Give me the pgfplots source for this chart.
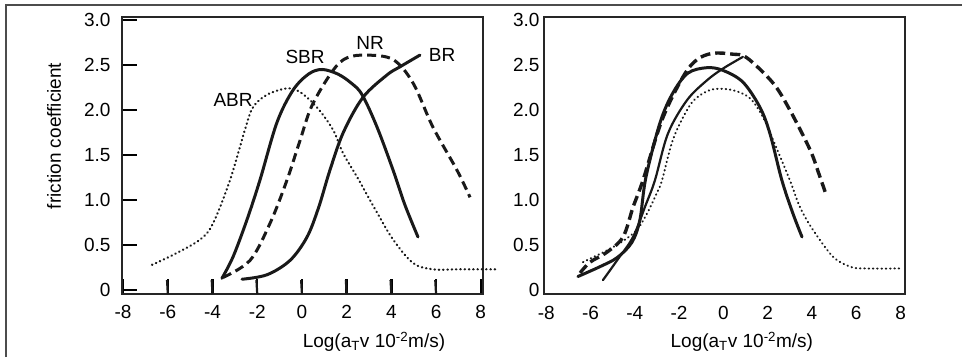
\documentclass[border=0pt]{standalone}
\usepackage{pgfplots}
\pgfplotsset{compat=1.18}
\usepackage{fontspec}
\setmainfont{Liberation Sans}

\pgfplotsset{
  panel/.style={
    scale only axis, width=361pt, height=277pt, anchor=south west,
    ymin=-0.044, ymax=3.033,
    ytick={0,0.5,1,1.5,2,2.5,3},
    yticklabels={0,0.5,1.0,1.5,2.0,2.5,3.0},
    xtick={-8,-6,-4,-2,0,2,4,6,8},
    xticklabels={-8,-6,-4,-2,0,2,4,6,8},
    clip=false,
    xtick pos=lower, ytick pos=left,
    tick align=inside,
    ticklabel style={font=\fontsize{19}{22}\selectfont},
    label style={font=\fontsize{19}{22}\selectfont},
    every axis plot/.append style={black!90, line cap=round, line join=round, smooth, tension=0.55},
  },
  sbr/.style={line width=3pt},
  br/.style={line width=3pt},
  nr/.style={line width=3pt, dash pattern=on 9pt off 5pt, line cap=butt},
  abr/.style={line width=2.2pt, dash pattern=on 0.5pt off 3.8pt},
}

\begin{document}
\fontsize{19}{22}\selectfont
\begin{tikzpicture}
\path[use as bounding box] (0pt,0pt) rectangle (962pt,357pt);
\draw[line width=1.3pt, black!70] (6pt,0pt) -- (6pt,352pt) -- (962pt,352pt);
\node[rotate=90, font=\fontsize{19}{22}\selectfont] at (54pt,221pt) {friction coefficient};

% ---------------- left panel ----------------
\begin{axis}[panel, at={(122pt,63pt)},
  xmin=-8.05, xmax=8.1,
  axis line style={line width=2.4pt, black!85},
  major tick length=15pt,
  major tick style={line width=2.4pt, black},
  yticklabel style={xshift=-5pt},
  xticklabel style={yshift=-5pt},
  xlabel={Log(a\textsubscript{T}v 10\textsuperscript{-2}m/s)},
  xlabel style={at={(axis description cs:0.698,-0.173)}, anchor=center},
]
% SBR
\addplot[sbr] coordinates {(-3.58,0.13) (-3.08,0.37) (-2.46,0.78) (-1.88,1.22) (-1.12,1.86) (-0.4,2.22) (0.3,2.40) (0.9,2.45) (1.6,2.40) (2.2,2.30) (2.69,2.17) (3.36,1.81) (4.08,1.33) (4.6,0.95) (5.19,0.59)};
% NR
\addplot[nr] coordinates {(-3.53,0.14) (-2.32,0.33) (-1.43,0.74) (-0.7,1.2) (-0.1,1.65) (0.45,2.05) (1.39,2.44) (2.02,2.58) (2.91,2.61) (4.08,2.56) (4.97,2.30) (5.86,1.81) (6.94,1.33) (7.52,1.03)};
% BR
\addplot[br] coordinates {(-2.68,0.12) (-1.56,0.17) (-0.53,0.33) (0.23,0.59) (0.75,0.92) (1.25,1.33) (1.85,1.75) (2.73,2.14) (3.81,2.39) (4.39,2.48) (5.28,2.61)};
% ABR
\addplot[abr] coordinates {(-6.71,0.28) (-5.77,0.39) (-4.56,0.56) (-3.98,0.74) (-3.22,1.22) (-2.55,1.78) (-2.19,2.03) (-1.56,2.17) (-0.67,2.24) (-0.09,2.20) (0.67,2.03) (1.39,1.78) (1.84,1.52) (2.48,1.25) (3.36,0.86) (4.08,0.56) (4.97,0.30) (5.86,0.23) (7.0,0.23) (8.73,0.23)};
% x tick marks standing on the axis
\pgfplotsinvokeforeach{-6,-4,-2,0,2,4,6}{\draw[line width=2.2pt, black!90] (axis cs:#1,-0.044) -- ++(-0.8pt,14pt);}
\node[font=\fontsize{19}{22}\selectfont] at (axis cs:0.14,2.59) {SBR};
\node[font=\fontsize{19}{22}\selectfont] at (axis cs:3.05,2.74) {NR};
\node[font=\fontsize{19}{22}\selectfont] at (axis cs:6.27,2.61) {BR};
\node[font=\fontsize{19}{22}\selectfont] at (axis cs:-3.08,2.11) {ABR};
\end{axis}

% ---------------- right panel ----------------
\begin{axis}[panel, at={(544pt,63pt)},
  xmin=-8.1, xmax=8.2,
  axis line style={line width=2pt, black!85},
  major tick length=0pt,
  yticklabel style={xshift=2pt},
  xticklabel style={yshift=-6pt},
  xlabel={Log(a\textsubscript{T}v 10\textsuperscript{-2}m/s)},
  xlabel style={at={(axis description cs:0.548,-0.173)}, anchor=center},
]
% NR
\addplot[nr, line width=3.4pt, dash pattern=on 10pt off 5pt] coordinates {(-6.47,0.19) (-6.02,0.31) (-5.26,0.42) (-4.53,0.59) (-4.08,0.92) (-3.63,1.22) (-2.77,1.89) (-1.82,2.37) (-1.19,2.56) (-0.47,2.63) (0.43,2.62) (1.06,2.58) (2.24,2.30) (3.0,2.0) (3.91,1.56) (4.3,1.3) (4.65,1.05)};
% SBR
\addplot[sbr] coordinates {(-6.57,0.15) (-5.57,0.26) (-4.8,0.36) (-4.13,0.53) (-3.77,0.78) (-3.5,1.25) (-2.86,1.86) (-2.28,2.19) (-1.6,2.41) (-0.74,2.47) (-0.02,2.44) (0.88,2.31) (1.65,2.03) (2.1,1.74) (2.64,1.22) (3.14,0.85) (3.55,0.59)};
% BR
\addplot[br, line width=2.2pt] coordinates {(-5.44,0.11) (-4.8,0.33) (-4.08,0.59) (-3.5,0.95) (-3.09,1.22) (-2.5,1.74) (-1.64,2.11) (-0.74,2.33) (-0.02,2.46) (0.88,2.59)};
% ABR
\addplot[abr, line width=2pt] coordinates {(-6.34,0.31) (-5.26,0.44) (-4.5,0.55) (-3.9,0.67) (-3.45,0.85) (-3.0,1.08) (-2.77,1.22) (-2.28,1.67) (-1.64,2.0) (-1.19,2.14) (-0.47,2.23) (0.43,2.22) (1.2,2.13) (1.79,1.92) (2.24,1.67) (3.0,1.22) (3.46,0.92) (4.04,0.67) (4.95,0.37) (5.72,0.26) (6.3,0.24) (8.06,0.24)};
\end{axis}
\end{tikzpicture}
\end{document}
